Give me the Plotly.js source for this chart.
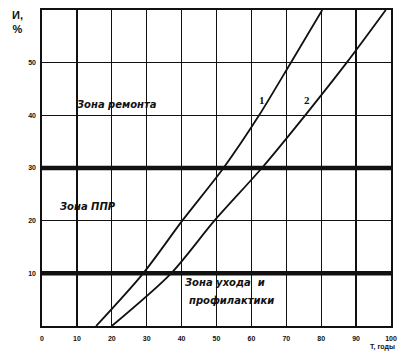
<!DOCTYPE html>
<html>
<head>
<meta charset="utf-8">
<script src="https://cdn.plot.ly/plotly-3.0.1.min.js"></script>
<style>html,body{margin:0;padding:0;background:#fff;}#chart{width:409px;height:358px;}</style>
</head>
<body>
<div id="chart"></div>
<script>
// Curve 1
var curve1T = [15.5, 29, 40.2, 52, 62.2, 71.3, 80.3];
var curve1I = [0, 10, 20, 30, 40, 50, 60];
// Curve 2
var curve2T = [20, 37, 49.4, 63, 75.4, 87.3, 98.5];
var curve2I = [0, 10, 20, 30, 40, 50, 60];
// Zone boundaries (thick lines)
var zoneBounds = [10, 30];
// Tick labels
var xTicks = [0, 10, 20, 30, 40, 50, 60, 70, 80, 90, 100];
var yTicks = [10, 20, 30, 40, 50];
// Text labels
var zoneLabels = ["Зона ремонта", "Зона ППР", "Зона ухода  и", "профилактики"];
var zoneLabelT = [21.4, 13.1, 52.3, 54.3];
var zoneLabelI = [42.1, 22.6, 8.2, 4.9];
var curveNames = ["1", "2"];
var curveNameT = [62.9, 76];
var curveNameI = [42.9, 42.9];

var lineStyle = {color: '#111', width: 1.8, shape: 'spline', smoothing: 0.8};
var traces = [
  {x: curve1T, y: curve1I, mode: 'lines', line: lineStyle, hoverinfo: 'skip'},
  {x: curve2T, y: curve2I, mode: 'lines', line: lineStyle, hoverinfo: 'skip'}
];

var shapes = zoneBounds.map(function(v){
  return {type: 'line', xref: 'paper', yref: 'y', x0: 0, x1: 1, y0: v, y1: v,
          line: {color: '#111', width: 4.5}};
});

var labelFont = {family: 'DejaVu Sans', size: 10, color: '#111', style: 'italic', weight: 'bold'};
var annotations = [];
zoneLabels.forEach(function(t, i){
  annotations.push({x: zoneLabelT[i], y: zoneLabelI[i], text: t, showarrow: false,
    font: labelFont, xanchor: 'center', yanchor: 'middle'});
});
curveNames.forEach(function(t, i){
  annotations.push({x: curveNameT[i], y: curveNameI[i], text: t, showarrow: false,
    font: {family: 'Liberation Serif', size: 11, color: '#111', weight: 'bold'}});
});
annotations.push({xref: 'paper', yref: 'paper', x: -0.07, y: 1.01, xanchor: 'center', yanchor: 'top',
  text: 'И,<br>%', showarrow: false, align: 'center',
  font: {family: 'Liberation Sans', size: 11, color: '#111', weight: 'bold'}});
annotations.push({xref: 'paper', yref: 'paper', x: 0.975, y: -0.066, xanchor: 'center', yanchor: 'middle',
  text: 'Т, годы', showarrow: false,
  font: {family: 'Liberation Sans', size: 7, color: '#111', weight: 'bold'}});

var layout = {
  width: 409, height: 358,
  margin: {l: 42, r: 18, t: 10, b: 32},
  paper_bgcolor: '#fff', plot_bgcolor: '#fff',
  showlegend: false,
  xaxis: {
    range: [0, 100], tickvals: xTicks, ticktext: xTicks.map(String),
    showgrid: true, gridcolor: '#111', gridwidth: 1.3,
    showline: true, linecolor: '#111', linewidth: 1.6, mirror: true,
    zeroline: false, ticks: '', ticklabelstandoff: 5,
    tickfont: {family: 'Liberation Sans', size: 7, color: '#111', weight: 'bold'},
    fixedrange: true
  },
  yaxis: {
    range: [0, 60], tickvals: yTicks, ticktext: yTicks.map(String),
    showgrid: true, gridcolor: '#111', gridwidth: 1.3,
    showline: true, linecolor: '#111', linewidth: 1.6, mirror: true,
    zeroline: false, ticks: '', ticklabelstandoff: 3,
    tickfont: {family: 'Liberation Sans', size: 7, color: '#111', weight: 'bold'},
    fixedrange: true
  },
  shapes: shapes,
  annotations: annotations
};

Plotly.newPlot('chart', traces, layout, {staticPlot: true});
</script>
</body>
</html>
